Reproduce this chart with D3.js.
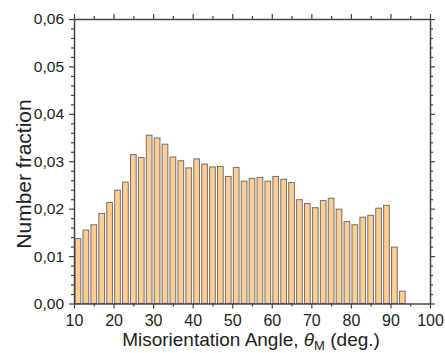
<!DOCTYPE html>
<html>
<head>
<meta charset="utf-8">
<script src="https://cdn.jsdelivr.net/npm/d3@7"></script>
<style>
  body { margin: 0; background: #fff; }
  svg text { font-family: "Liberation Sans", Arial, sans-serif; fill: #222; }
</style>
</head>
<body>
<svg id="chart" width="445" height="353"></svg>
<script>
// bin centres (deg) and number fraction
const angles = [11,13,15,17,19,21,23,25,27,29,31,33,35,37,39,41,43,45,47,49,51,
                53,55,57,59,61,63,65,67,69,71,73,75,77,79,81,83,85,87,89,91,93]
const fractions = [0.0137,0.0155,0.0166,0.0190,0.0213,0.0239,0.0256,0.0314,0.0308,0.0355,0.0349,
                   0.0336,0.0309,0.0301,0.0286,0.0305,0.0294,0.0288,0.0289,0.0268,0.0287,
                   0.0258,0.0264,0.0266,0.0258,0.0268,0.0262,0.0255,0.0219,0.0211,0.0202,
                   0.0217,0.0222,0.0199,0.0173,0.0166,0.0182,0.0186,0.0201,0.0207,0.0119,0.0026]
const xTicks = [10,20,30,40,50,60,70,80,90,100]
const yTicks = [0,0.01,0.02,0.03,0.04,0.05,0.06]

const binWidth = 2
const svg = d3.select('#chart')
const padL = 74, padR = 430, padT = 19, padB = 303.5

const x = d3.scaleLinear().domain([10, 100]).range([padL, padR])
const y = d3.scaleLinear().domain([0, 0.06]).range([padB, padT])
const fmt = d => d3.format('.2f')(d).replace('.', ',')

const axisColor = '#444'

// bars
const bw = (x(binWidth) - x(0)) * 0.72
svg.append('g')
  .selectAll('rect')
  .data(angles)
  .enter()
  .append('rect')
    .attr('x', (d) => x(d) - bw / 2)
    .attr('y', (d, i) => y(fractions[i]))
    .attr('width', bw)
    .attr('height', (d, i) => y(0) - y(fractions[i]))
    .attr('fill', '#ffcc91')
    .attr('stroke', '#707070')
    .attr('stroke-width', 1)

// minor tick values
const xMinor = d3.range(15, 100, 10)
const yMinor = d3.range(0, 0.0601, 0.002).filter(v => Math.abs(v * 100 - Math.round(v * 100)) > 1e-6)

function styleAxis(g) {
  g.selectAll('path.domain').attr('stroke', axisColor).attr('stroke-width', 1.5)
  g.selectAll('.tick line').attr('stroke', axisColor).attr('stroke-width', 1.2)
}

// bottom
const xb = svg.append('g').attr('transform', `translate(0,${padB})`)
  .call(d3.axisBottom(x).tickValues(xTicks).tickSize(5).tickSizeOuter(0).tickPadding(6))
xb.selectAll('text').attr('font-size', '16px')
svg.append('g').attr('transform', `translate(0,${padB})`)
  .call(d3.axisBottom(x).tickValues(xMinor).tickSize(3).tickSizeOuter(0).tickFormat(''))
  .call(g => g.select('path.domain').remove())
  .call(styleAxis)
styleAxis(xb)

// top
svg.append('g').attr('transform', `translate(0,${padT})`)
  .call(d3.axisTop(x).tickValues(xTicks).tickSize(5).tickSizeOuter(0).tickFormat(''))
  .call(styleAxis)
svg.append('g').attr('transform', `translate(0,${padT})`)
  .call(d3.axisTop(x).tickValues(xMinor).tickSize(3).tickSizeOuter(0).tickFormat(''))
  .call(g => g.select('path.domain').remove())
  .call(styleAxis)

// left
const yl = svg.append('g').attr('transform', `translate(${padL},0)`)
  .call(d3.axisLeft(y).tickValues(yTicks).tickSize(5).tickSizeOuter(0).tickPadding(5).tickFormat(fmt))
yl.selectAll('text').attr('font-size', '15.5px')
styleAxis(yl)
svg.append('g').attr('transform', `translate(${padL},0)`)
  .call(d3.axisLeft(y).tickValues(yMinor).tickSize(3).tickSizeOuter(0).tickFormat(''))
  .call(g => g.select('path.domain').remove())
  .call(styleAxis)

// right
svg.append('g').attr('transform', `translate(${padR},0)`)
  .call(d3.axisRight(y).tickValues(yTicks).tickSize(5).tickSizeOuter(0).tickFormat(''))
  .call(styleAxis)
svg.append('g').attr('transform', `translate(${padR},0)`)
  .call(d3.axisRight(y).tickValues(yMinor).tickSize(3).tickSizeOuter(0).tickFormat(''))
  .call(g => g.select('path.domain').remove())
  .call(styleAxis)

svg.selectAll('.tick text').attr('fill', '#222').style('font-family', '"Liberation Sans", Arial, sans-serif')

// axis titles
const xt = svg.append('text')
  .attr('x', 251)
  .attr('y', 346)
  .attr('text-anchor', 'middle')
  .attr('font-size', '19px')
xt.append('tspan').text('Misorientation Angle, ')
xt.append('tspan').attr('font-style', 'italic').text('θ')
xt.append('tspan').attr('font-size', '13px').attr('dy', 4).text('M')
xt.append('tspan').attr('dy', -4).text(' (deg.)')

svg.append('text')
  .attr('transform', `translate(31,174) rotate(-90)`)
  .attr('text-anchor', 'middle')
  .attr('font-size', '21px')
  .text('Number fraction')
</script>
</body>
</html>
